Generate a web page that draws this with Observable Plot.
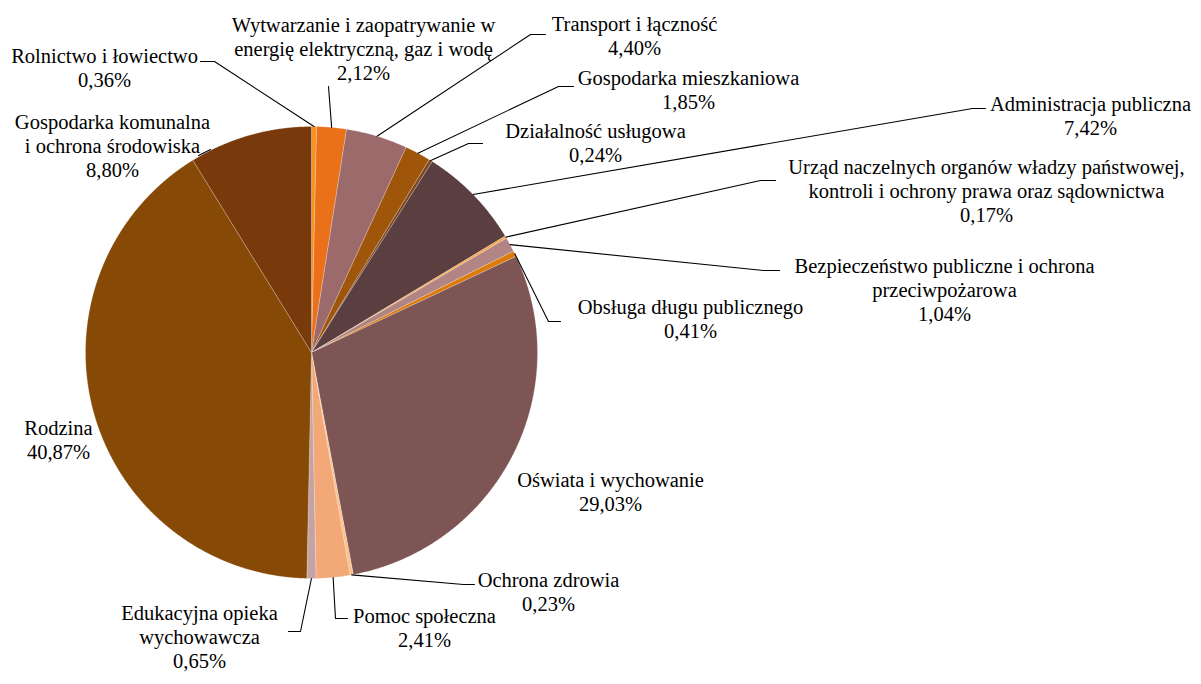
<!DOCTYPE html>
<html>
<head>
<meta charset="utf-8">
<script src="https://cdn.jsdelivr.net/npm/d3@7"></script>
<script src="https://cdn.jsdelivr.net/npm/@observablehq/plot@0.6"></script>
<style>
  html, body { margin: 0; padding: 0; background: #ffffff; }
  #chart svg { display: block; }
</style>
</head>
<body>
<div id="chart"></div>
<script>
// ---- Data ----
const categories = [
  "Rolnictwo i łowiectwo",
  "Wytwarzanie i zaopatrywanie w\nenergię elektryczną, gaz i wodę",
  "Transport i łączność",
  "Gospodarka mieszkaniowa",
  "Działalność usługowa",
  "Administracja publiczna",
  "Urząd naczelnych organów władzy państwowej,\nkontroli i ochrony prawa oraz sądownictwa",
  "Bezpieczeństwo publiczne i ochrona\nprzeciwpożarowa",
  "Obsługa długu publicznego",
  "Oświata i wychowanie",
  "Ochrona zdrowia",
  "Pomoc społeczna",
  "Edukacyjna opieka\nwychowawcza",
  "Rodzina",
  "Gospodarka komunalna\ni ochrona środowiska"
];
const values = [0.36, 2.12, 4.40, 1.85, 0.24, 7.42, 0.17, 1.04, 0.41, 29.03, 0.23, 2.41, 0.65, 40.87, 8.80];
const colors = [
  "#f7931e", "#ea7019", "#9c6a6a", "#a0560a", "#7d4420", "#5b3e40",
  "#f8a64a", "#b08584", "#dd7a0a", "#7e5555", "#fac088", "#f3a877",
  "#c6a3a3", "#864906", "#783a0b"
];

// ---- Layout (pixels) ----
const W = 1201, H = 684;
const cx = 311, cy = 352, R = 226;
// label block centres
const labelPos = [
  [104, 67], [363, 48], [634, 35], [688, 89], [595, 142], [1090, 115],
  [986, 190], [944, 289], [690, 318], [610, 491], [548, 591], [424, 627],
  [199, 636], [58, 439], [112, 145]
];
// leader line points on the label side (the slice end is computed from the data)
const leaderPts = [
  [[200, 61], [214, 61]],
  [[328, 86]],
  [[545, 34], [530, 34]],
  [[573, 86], [558, 86]],
  [[482, 143], [468, 143]],
  [[985, 108], [972, 108]],
  [[775, 180], [760, 180]],
  [[779, 270], [763, 270]],
  [[560, 321], [548, 321]],
  null,
  [[474, 584], [463, 584]],
  [[347, 618], [335, 618]],
  [[288, 631], [300, 631]],
  null,
  [[198, 155], [210, 149]]
];

// ---- Geometry from data ----
const arcs = d3.pie().sort(null).value(d => d)(values);
const pt = (a, r) => [cx + r * Math.sin(a), cy - r * Math.cos(a)];

const sliceRows = [];
arcs.forEach((a, i) => {
  const n = Math.max(2, Math.ceil((a.endAngle - a.startAngle) / (Math.PI / 720)));
  sliceRows.push({slice: i, x: cx, y: cy, color: colors[i]});
  for (let k = 0; k <= n; k++) {
    const ang = a.startAngle + (a.endAngle - a.startAngle) * k / n;
    const [x, y] = pt(ang, R);
    sliceRows.push({slice: i, x, y, color: colors[i]});
  }
  sliceRows.push({slice: i, x: cx, y: cy, color: colors[i]});
});

const leaderRows = [];
arcs.forEach((a, i) => {
  const L = leaderPts[i];
  if (!L) return;
  L.forEach(([x, y]) => leaderRows.push({id: i, x, y}));
  if (i === 14) return; // label sits on the rim: short connector only
  const mid = (a.startAngle + a.endAngle) / 2;
  const [x, y] = pt(mid, R);
  leaderRows.push({id: i, x, y});
});

const fmt = v => d3.format(".2f")(v).replace(".", ",") + "%";
const labels = categories.map((c, i) => ({
  text: c + "\n" + fmt(values[i]),
  x: labelPos[i][0],
  y: labelPos[i][1]
}));

const chart = Plot.plot({
  width: W,
  height: H,
  margin: 0,
  x: {type: "linear", domain: [0, W], range: [0, W], axis: null},
  y: {type: "linear", domain: [0, H], range: [0, H], axis: null},
  color: {type: "identity"},
  marks: [
    Plot.line(sliceRows, {
      x: "x", y: "y", z: "slice", fill: "color",
      stroke: "#ffffff", strokeWidth: 0.5, strokeOpacity: 0.45, curve: "linear"
    }),
    Plot.line(leaderRows, {
      x: "x", y: "y", z: "id", stroke: "#000000", strokeWidth: 1.1, curve: "linear"
    }),
    Plot.text(labels, {
      x: "x", y: "y", text: "text",
      textAnchor: "middle", lineAnchor: "middle", lineHeight: 1.17,
      fontSize: 20.5, fill: "#000000", fontFamily: "Liberation Serif"
    })
  ]
});

document.getElementById("chart").appendChild(chart);
</script>
</body>
</html>
